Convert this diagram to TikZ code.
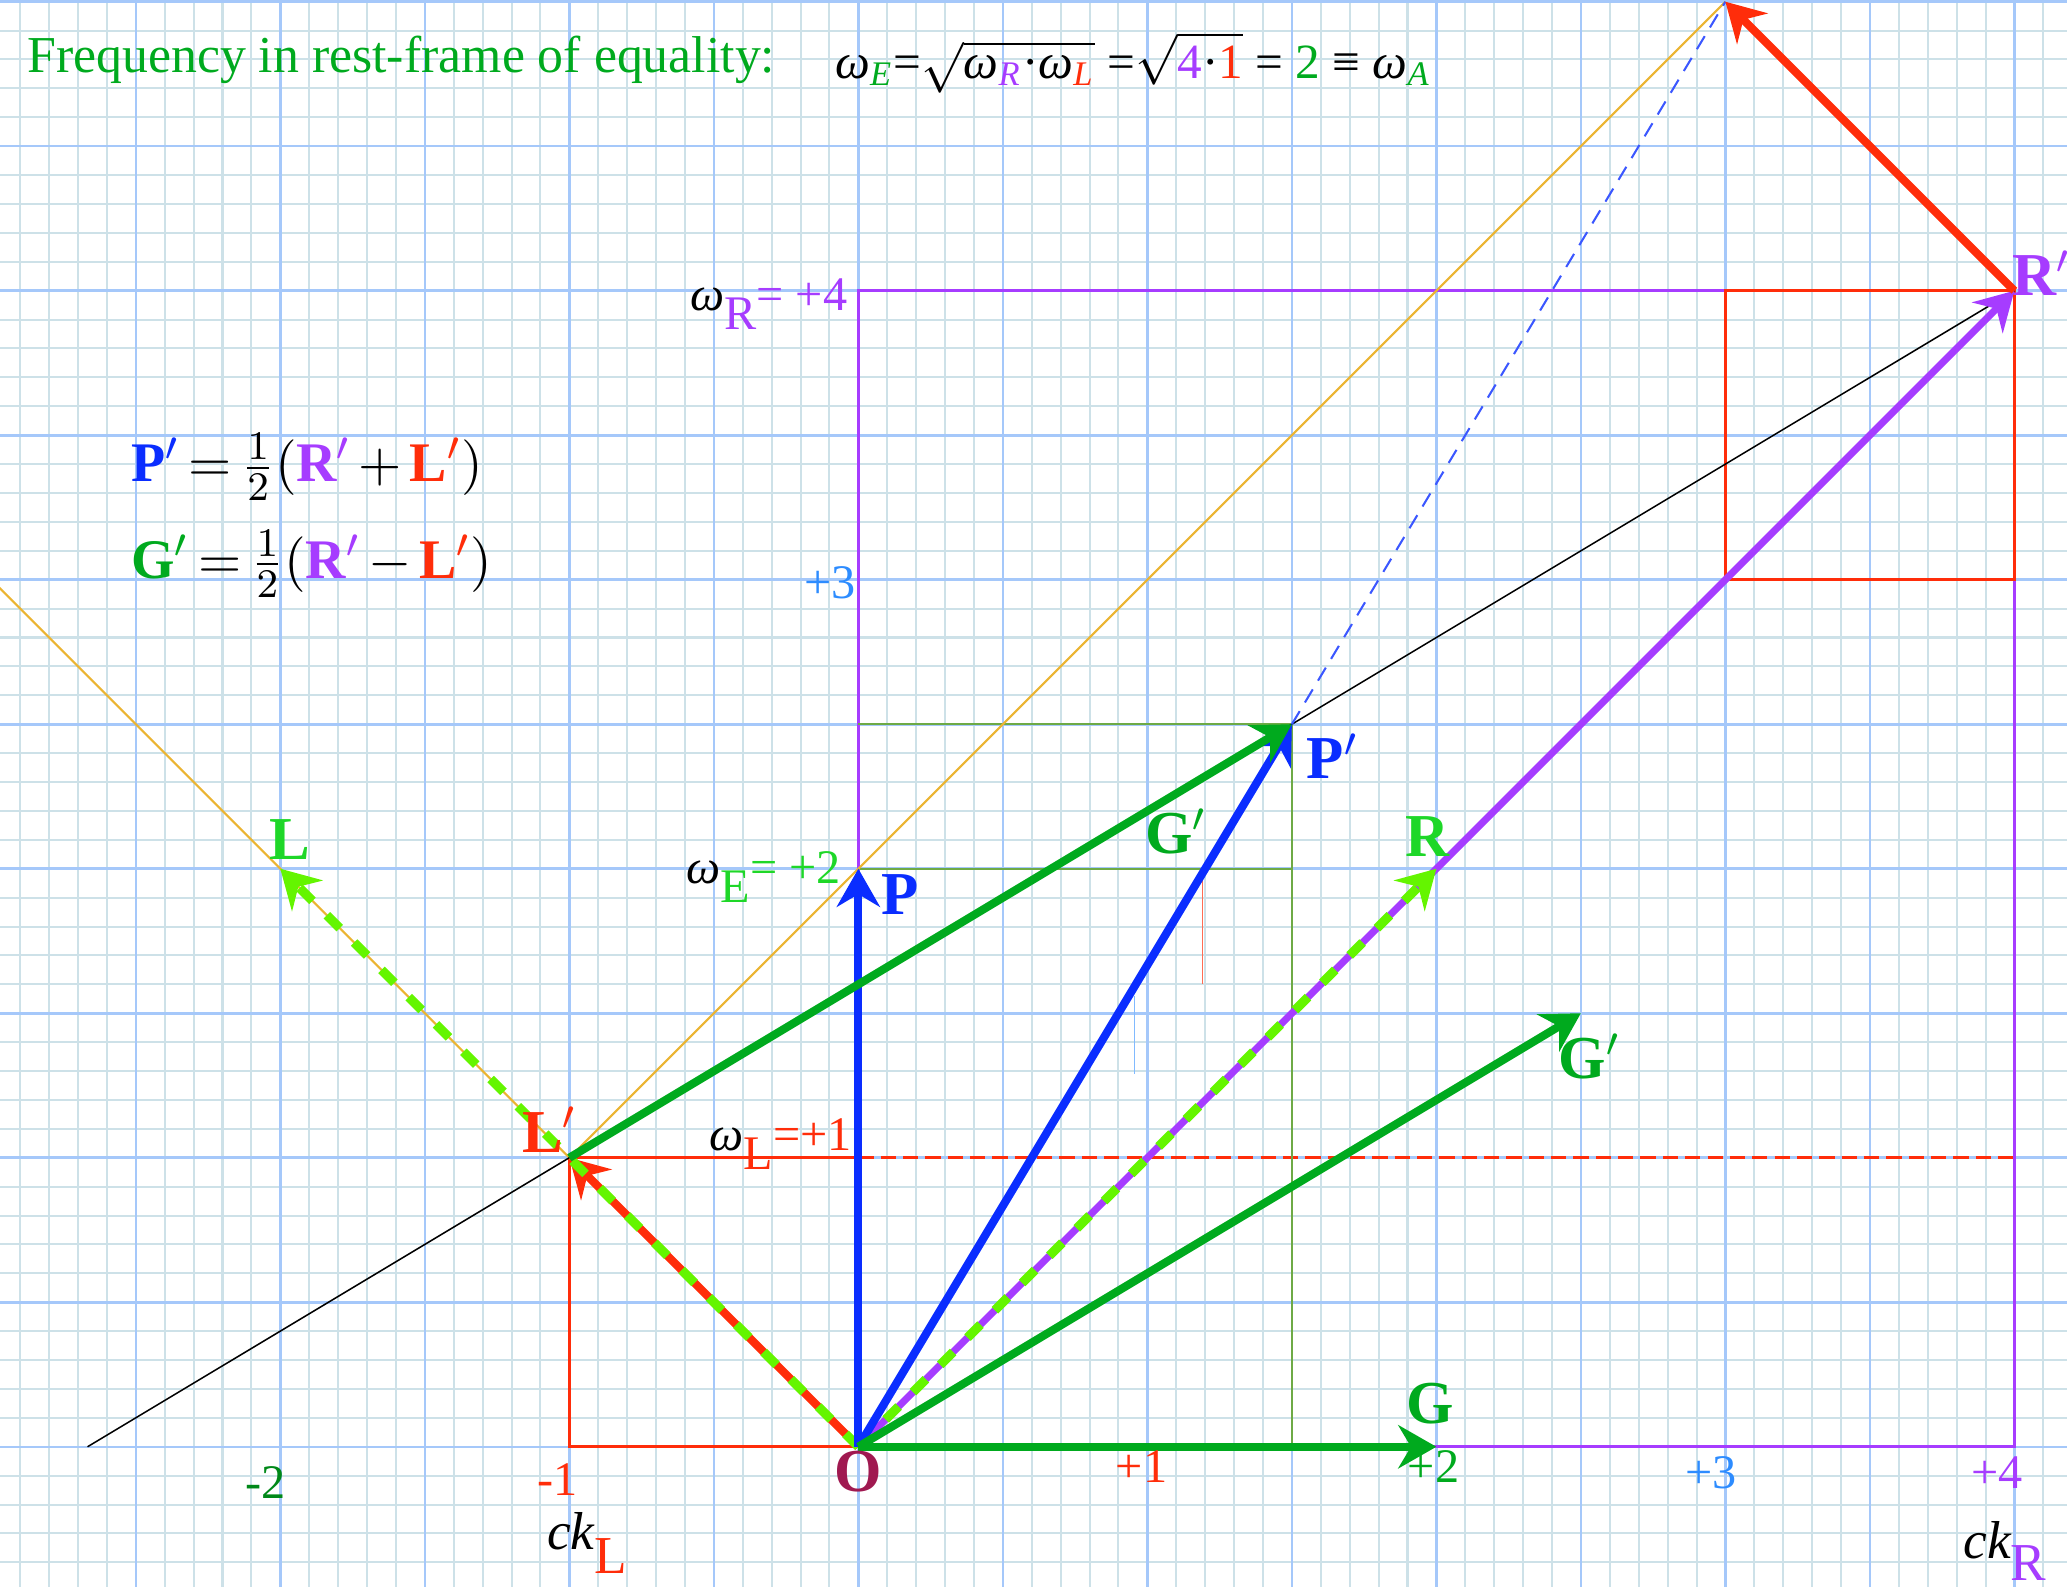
\documentclass[tikz,border=0pt]{standalone}
\usepackage{fontspec}
\setmainfont{Liberation Serif}
\usetikzlibrary{arrows.meta}
\definecolor{purp}{RGB}{166,60,255}
\definecolor{rd}{RGB}{255,45,10}
\definecolor{bl}{RGB}{10,45,255}
\definecolor{dgr}{RGB}{0,170,30}
\definecolor{lgr}{RGB}{30,215,40}
\definecolor{dashgr}{RGB}{100,245,0}
\definecolor{orng}{RGB}{235,180,50}
\definecolor{axbl}{RGB}{45,140,255}
\definecolor{maroon}{RGB}{160,25,80}
\definecolor{olive}{RGB}{110,170,70}
\definecolor{gridfine}{RGB}{205,225,232}
\definecolor{gridmajor}{RGB}{165,200,250}
\tikzset{
  vec/.style={line width=1.6pt,-{Stealth[length=7.5pt,width=8.5pt,inset=2.5pt]}},
  dvec/.style={vec,dashgr,line width=1.8pt,dash pattern=on 3.6pt off 4pt},
  lbl/.style={font=\fontsize{12}{14}\selectfont\bfseries,inner sep=1pt},
  num/.style={font=\fontsize{9.5}{11}\selectfont,inner sep=1pt},
  omlbl/.style={font=\fontsize{9.5}{11}\selectfont,inner sep=0pt,anchor=base east},
}
\begin{document}
\begin{tikzpicture}[x=2cm,y=2cm]
\useasboundingbox (-2.97,-0.482) rectangle (4.182,5.006);
\clip (-2.97,-0.482) rectangle (4.182,5.006);
\draw[gridfine,line width=0.4pt] (-3,-0.5) grid[step=0.1] (4.2,5.1);
\draw[gridmajor,line width=0.5pt] (-3,-0.5) grid[step=0.5] (4.2,5.1);

\coordinate (O) at (0,0);
\coordinate (L) at (-2,2);
\coordinate (Lp) at (-1,1);
\coordinate (R) at (2,2);
\coordinate (Rp) at (4,4);
\coordinate (P) at (0,2);
\coordinate (Pp) at (1.5,2.5);
\coordinate (G) at (2,0);
\coordinate (Gp) at (2.5,1.5);
\coordinate (T) at (3,5);
\coordinate (Bk) at (-2.667,0);
\coordinate (Or) at (-3.2,3.2);

\draw[purp,line width=0.6pt] (0,0) rectangle (4,4);
\draw[rd,line width=0.6pt] (3,3) rectangle (4,4);
\draw[rd,line width=0.6pt] (0,0) -- (-1,0) -- (-1,1) -- (0,1);
\draw[rd,line width=0.5pt,dash pattern=on 3pt off 1.4pt] (0,1) -- (4,1);
\draw[olive,line width=0.4pt] (0,2.5) -- (1.5,2.5) -- (1.5,0);
\draw[olive,line width=0.4pt] (0,2) -- (1.5,2);
\draw[rd!70,line width=0.3pt] (1.19,2) -- (1.19,1.6);
\draw[axbl!60,line width=0.3pt] (0.955,1.56) -- (0.955,1.29);
\draw[orng,line width=0.4pt] (Or) -- (O);
\draw[orng,line width=0.4pt] (Lp) -- (T);
\draw[black,line width=0.3pt] (Bk) -- (Rp);
\draw[bl!80,line width=0.4pt,dash pattern=on 3pt off 2pt] (Pp) -- (T);

\draw[vec,purp,line width=1.4pt] (O) -- (Rp);
\draw[vec,rd] (O) -- (Lp);
\draw[vec,rd] (Rp) -- (T);
\draw[dvec] (O) -- (L);
\draw[dvec] (O) -- (R);
\draw[vec,bl] (O) -- (P);
\draw[vec,bl] (O) -- (Pp);
\draw[vec,dgr] (Lp) -- (Pp);
\draw[vec,dgr] (O) -- (Gp);
\draw[vec,dgr] (O) -- (G);

\node[lbl,lgr] (labL) at (-1.967,2.10) {L};
\node[lbl,lgr] (labR) at (1.97,2.11) {R};
\node[lbl,dgr] (labG) at (1.98,0.148) {G};
\node[lbl,dgr] (labGp) at (2.53,1.35) {G$'$};
\node[lbl,dgr] (labGm) at (1.10,2.13) {G$'$};
\node[lbl,bl] (labP) at (0.144,1.91) {P};
\node[lbl,bl] (labPp) at (1.641,2.39) {P$'$};
\node[lbl,purp,anchor = west,inner sep=0pt] (labRp) at (3.99,4.06) {R$'$};
\node[lbl,rd] (labLp) at (-1.068,1.097) {L$'$};
\node[lbl,maroon] (labO) at (0,-0.085) {O};

\node[num,dgr!80!black] (xm2) at (-2.05,-0.125) {-2};
\node[num,rd] (xm1) at (-1.04,-0.115) {-1};
\node[num,rd] (xp1) at (0.98,-0.07) {+1};
\node[num,dgr] (xp2) at (1.99,-0.07) {+2};
\node[num,axbl] (xp3) at (2.95,-0.09) {+3};
\node[num,purp] (xp4) at (3.94,-0.09) {+4};
\node[num,axbl] (yp3) at (-0.097,2.99) {+3};

\node[omlbl] (omR) at (-0.035,3.93) {\itshape ω\upshape\raisebox{-0.85ex}{\color{purp}R}{\color{purp} = +4}};
\node[omlbl] (omE) at (-0.057,1.95) {\itshape ω\upshape\raisebox{-0.85ex}{\color{lgr}E}{\color{lgr} = +2}};
\node[omlbl] (omL) at (-0.02,1.026) {\itshape ω\upshape\raisebox{-0.85ex}{\color{rd}L}{\color{rd}=+1}};
\node[num,anchor = base west,inner sep=0pt,font=\fontsize{10.5}{12}\selectfont] (ckL) at (-1.08,-0.355) {\itshape ck\upshape\raisebox{-1ex}{\color{rd}L}};
\node[num,anchor = base west,inner sep=0pt,font=\fontsize{10.5}{12}\selectfont] (ckR) at (3.82,-0.385) {\itshape ck\upshape\raisebox{-0.9ex}{\color{purp}R}};

\node[anchor = base west,inner sep=0pt,dgr,font=\fontsize{10.2}{12}\selectfont] (title) at (-2.879,4.755) {Frequency in rest-frame of equality:};
\node[anchor = base west,inner sep=0pt,font=\fontsize{9.7}{12}\selectfont] (eqn) at (-0.083,4.735) {\itshape ω\textsubscript{\color{dgr}E}\upshape=$\sqrt{\hbox{\itshape ω\textsubscript{\color{purp}R}\upshape·\itshape ω\textsubscript{\color{rd}L}}}$ =$\sqrt{\hbox{\color{purp}4\color{black}·\color{rd}1}}$ = {\color{dgr}2} ≡ {\itshape ω\textsubscript{\color{dgr}A}}};

\node[anchor = west,inner sep=0pt,font=\fontsize{11}{13}\selectfont] (frmP) at (-2.52,3.39) {\medmuskip=2.5mu\thickmuskip=3mu$\textcolor{bl}{\textbf{P}'}=\frac{1}{2}(\textcolor{purp}{\textbf{R}'}+\textcolor{rd}{\textbf{L}'})$};
\node[anchor = west,inner sep=0pt,font=\fontsize{11}{13}\selectfont] (frmG) at (-2.52,3.055) {\medmuskip=2.5mu\thickmuskip=3mu$\textcolor{dgr}{\textbf{G}'}=\frac{1}{2}(\textcolor{purp}{\textbf{R}'}-\textcolor{rd}{\textbf{L}'})$};
\end{tikzpicture}
\end{document}
